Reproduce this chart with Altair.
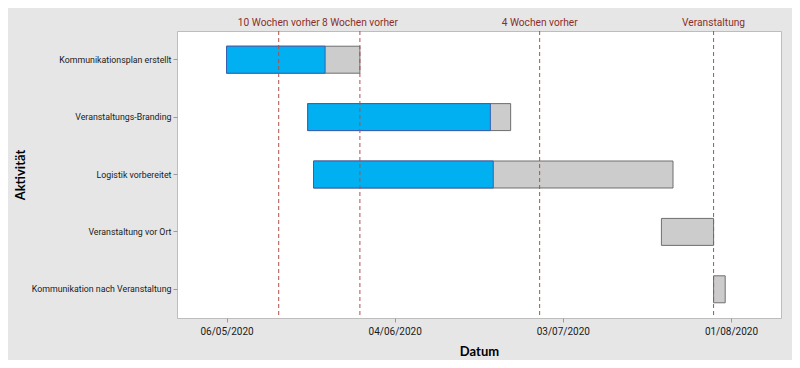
import altair as alt
import pandas as pd

activities = ["Kommunikationsplan erstellt", "Veranstaltungs-Branding", "Logistik vorbereitet",
              "Veranstaltung vor Ort", "Kommunikation nach Veranstaltung"]
starts = ["2020-05-06", "2020-05-20", "2020-05-21", "2020-07-20", "2020-07-29"]
ends = ["2020-05-29", "2020-06-24", "2020-07-22", "2020-07-29", "2020-07-31"]
progress_ends = ["2020-05-23", "2020-06-20T12:00", "2020-06-21", None, None]

milestone_labels = ["10 Wochen vorher", "8 Wochen vorher", "4 Wochen vorher", "Veranstaltung"]
milestone_dates = ["2020-05-15", "2020-05-29", "2020-06-29", "2020-07-29"]

tick_dates = [(2020, 5, 6), (2020, 6, 4), (2020, 7, 3), (2020, 8, 1)]

FONT = "Roboto"

tasks = pd.DataFrame({"Aktivität": activities, "start": starts, "end": ends})
prog = pd.DataFrame({"Aktivität": activities, "start": starts, "pend": progress_ends}).dropna()
ms = pd.DataFrame({"label": milestone_labels, "date": milestone_dates})

xscale = alt.Scale(
    type="utc",
    domain=[alt.DateTime(year=2020, month=4, date=27, hours=11, utc=True),
            alt.DateTime(year=2020, month=8, date=9, hours=15, utc=True)],
    nice=False,
)
yscale = alt.Scale(domain=activities, paddingInner=0.53, paddingOuter=0.265)

xaxis = alt.Axis(
    values=[alt.DateTime(year=y, month=m, date=d, utc=True) for y, m, d in tick_dates],
    format="%d/%m/%Y",
    labelFont=FONT, labelFontSize=10, labelColor="#1a1a1a", labelPadding=4,
    tickColor="#9a9a9a", tickSize=4, domain=False, grid=False,
    title="Datum", titleFont="Lato", titleFontSize=13, titleFontWeight="bold",
    titleColor="#000000", titleX=302, titleY=33, titleBaseline="middle",
)
yaxis = alt.Axis(
    labelFont=FONT, labelFontSize=8.8, labelColor="#1a1a1a", labelPadding=2, labelLimit=300,
    tickColor="#9a9a9a", tickSize=4, domain=False, grid=False,
    title="Aktivität", titleFont="Lato", titleFontSize=13, titleFontWeight="bold",
    titleColor="#000000", titleAngle=-90, titleX=-157, titleY=143.5,
    titleAlign="center", titleBaseline="middle",
)

base_grey = alt.Chart(tasks).mark_bar(
    color="#cccccc", stroke="#6e6e6e", strokeWidth=1
).encode(
    x=alt.X("start:T", scale=xscale, axis=xaxis),
    x2="end:T",
    y=alt.Y("Aktivität:N", scale=yscale, axis=yaxis, sort=activities),
)

blue = alt.Chart(prog).mark_bar(
    color="#00b0f0", stroke="#3a5fb0", strokeWidth=1
).encode(
    x=alt.X("start:T", scale=xscale, axis=xaxis),
    x2="pend:T",
    y=alt.Y("Aktivität:N", scale=yscale, axis=yaxis, sort=activities),
)

rules = alt.Chart(ms).mark_rule(
    color="#b0504a", strokeDash=[4, 3], strokeWidth=1
).encode(
    x=alt.X("date:T", scale=xscale, axis=xaxis),
)

labels = alt.Chart(ms).mark_text(
    font=FONT, fontSize=10.2, color="#8b2f2a", baseline="middle", align="center"
).encode(
    x=alt.X("date:T", scale=xscale, axis=xaxis),
    y=alt.value(-8.5),
    text="label:N",
)

chart = alt.layer(base_grey, blue, rules, labels).properties(
    width=604, height=287,
    background="#e6e6e6",
    padding={"left": 169, "top": 23, "right": 11, "bottom": 42},
    autosize=alt.AutoSizeParams(type="none"),
).configure_view(
    fill="white", stroke="#bdbdbd", strokeWidth=1
)

chart.save("out.html", embed_options={"renderer": "svg", "actions": False})
